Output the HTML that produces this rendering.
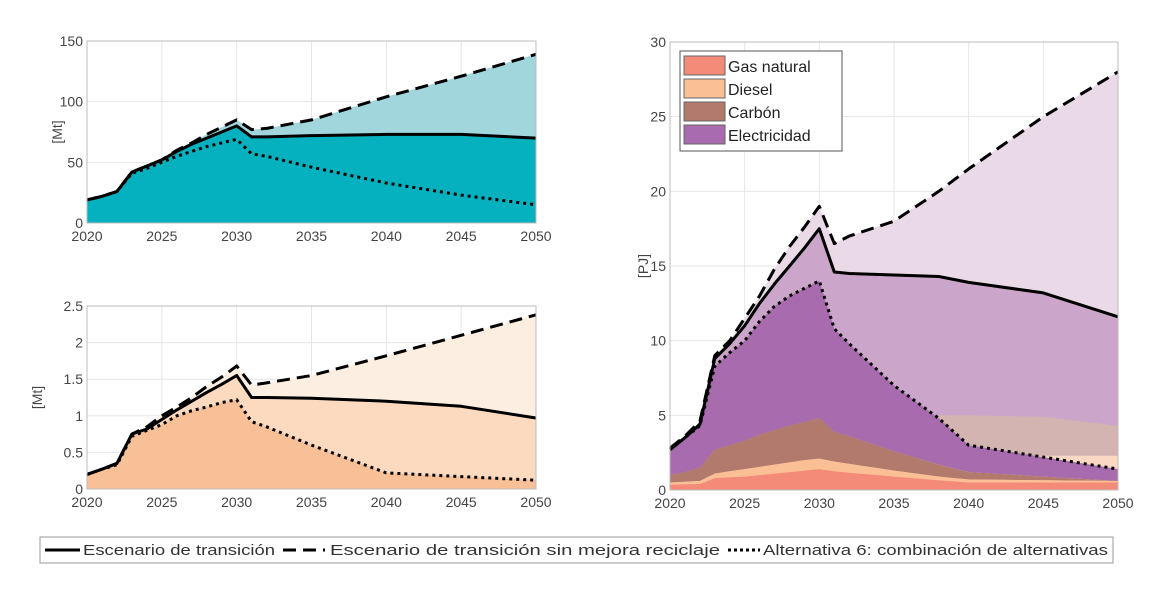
<!DOCTYPE html>
<html><head><meta charset="utf-8"><style>
body{margin:0;background:#fff;}
svg{display:block;font-family:"Liberation Sans",sans-serif;}
</style></head><body>
<svg id="c" width="1156" height="596"></svg>
<script>
const NS="http://www.w3.org/2000/svg";
// ---------- DATA ----------
const yearsA=[2020,2021,2022,2023,2024,2025,2026,2027,2028,2029,2030,2031,2032,2035,2040,2045,2050];
const topSolid=[19,22,26,42,47,52,59,65,70,75,80,71,71,72,73,73,70];
const topDashed=[19,22,26,42,47,52,60,66,73,79,85,77,78,85,104,121,139];
const topDotted=[19,22,26,41,45,50,55,59,63,66,69,57,55,46,33,23,15];
const botSolid=[0.2,0.27,0.35,0.75,0.82,0.95,1.08,1.2,1.32,1.43,1.55,1.25,1.25,1.24,1.2,1.13,0.97];
const botDashed=[0.2,0.27,0.35,0.75,0.85,1.0,1.12,1.25,1.4,1.53,1.68,1.42,1.45,1.55,1.82,2.1,2.38];
const botDotted=[0.2,0.27,0.33,0.72,0.8,0.88,1.0,1.07,1.12,1.18,1.22,0.92,0.85,0.6,0.22,0.17,0.12];
const yearsR=[2020,2021,2022,2023,2024,2025,2026,2027,2028,2029,2030,2031,2032,2035,2038,2040,2045,2050];
const rDashed=[2.8,3.6,4.6,9,10,11.5,13,14.8,16.3,17.6,19,16.5,17,18,20,21.5,25,28];
const rSolid=[2.7,3.5,4.4,8.8,9.8,11,12.5,13.8,15,16.2,17.5,14.6,14.5,14.4,14.3,13.9,13.2,11.6];
const rDotted=[2.7,3.5,4.3,8.3,9.2,10,11.3,12.3,13,13.5,14,10.8,9.8,7,4.8,3,2.2,1.4];
const altGas=[0.35,0.38,0.4,0.8,0.85,0.9,1.0,1.1,1.2,1.3,1.4,1.25,1.15,0.9,0.65,0.5,0.5,0.5];
const altDiesel=[0.5,0.55,0.6,1.1,1.25,1.4,1.55,1.7,1.85,2.0,2.1,1.9,1.75,1.3,0.9,0.7,0.65,0.6];
const altCarbon=[1.0,1.2,1.5,2.7,3.0,3.3,3.7,4.0,4.3,4.55,4.8,3.9,3.6,2.6,1.7,1.2,0.9,0.6];
const trDiesel=[0.5,0.55,0.6,1.1,1.25,1.4,1.55,1.7,1.85,2.0,2.1,2.0,2.0,2.1,2.1,2.2,2.3,2.3];
const trCarbon=[1.0,1.2,1.5,2.7,3.0,3.3,3.7,4.0,4.3,4.55,4.8,4.3,4.4,4.8,5.0,5.0,4.9,4.3];
const xTicks=[2020,2025,2030,2035,2040,2045,2050];
const topTicks=[0,50,100,150], botTicks=[0,0.5,1,1.5,2,2.5], rTicks=[0,5,10,15,20,25,30];
const botTickLabels=["0","0.5","1","1.5","2","2.5"];
// ---------- HELPERS ----------
const svg=document.getElementById('c');
function el(tag,attrs,parent){const e=document.createElementNS(NS,tag);for(const k in attrs)e.setAttribute(k,attrs[k]);(parent||svg).appendChild(e);return e;}
function makeAxes(x0,x1,y0,y1,ymax){return {x:v=>x0+(v-2020)/30*(x1-x0),y:v=>y1-v/ymax*(y1-y0),x0,x1,y0,y1};}
function linePts(ax,yrs,vals){return yrs.map((t,i)=>ax.x(t).toFixed(1)+','+ax.y(vals[i]).toFixed(1)).join(' ');}
function band(ax,yrs,lo,hi,fill,name){
  const top=yrs.map((t,i)=>[ax.x(t),ax.y(hi[i])]);
  const bot=yrs.map((t,i)=>[ax.x(t),ax.y(lo?lo[i]:0)]).reverse();
  const p=el('polygon',{points:top.concat(bot).map(q=>q[0].toFixed(1)+','+q[1].toFixed(1)).join(' '),fill:fill});
  
  
}
function line(ax,yrs,vals,style,name){
  const a={points:linePts(ax,yrs,vals),fill:'none',stroke:'#000','stroke-width':3,'stroke-linejoin':'round'};
  if(style==='dash'){a['stroke-dasharray']='13,7';}
  if(style==='dot'){a['stroke-dasharray']='3,4';}
  const p=el('polyline',a);
  
  
}
function frame(ax,ticks,labels,prefix,unit){
  const g=el('g',{});
  
  
  el('rect',{x:ax.x0,y:ax.y0,width:ax.x1-ax.x0,height:ax.y1-ax.y0,fill:'#fff'},g);
  xTicks.forEach(t=>{el('line',{x1:ax.x(t),x2:ax.x(t),y1:ax.y0,y2:ax.y1,stroke:'#e6e6e6'},g);});
  ticks.forEach(t=>{el('line',{x1:ax.x0,x2:ax.x1,y1:ax.y(t),y2:ax.y(t),stroke:'#e6e6e6'},g);});
  return g;
}
function labelsAx(ax,ticks,labels,prefix,unit,ux){
  xTicks.forEach(t=>{const tx=el('text',{x:ax.x(t),y:ax.y1+18,'font-size':14,fill:'#444','text-anchor':'middle'});tx.textContent=t;
    });
  ticks.forEach((t,i)=>{const tx=el('text',{x:ax.x0-4,y:ax.y(t)+5,'font-size':14,fill:'#444','text-anchor':'end'});tx.textContent=labels[i];
    });
  const yt=el('text',{x:ux,y:(ax.y0+ax.y1)/2,'font-size':14,fill:'#444','text-anchor':'middle',transform:`rotate(-90 ${ux} ${(ax.y0+ax.y1)/2})`});
  yt.textContent=unit;
  
  el('rect',{x:ax.x0,y:ax.y0,width:ax.x1-ax.x0,height:ax.y1-ax.y0,fill:'none',stroke:'#bbb','stroke-width':1});
}
// ---------- TOP-LEFT ----------
const A=makeAxes(87,536,41,223,150);
frame(A,topTicks);
band(A,yearsA,null,topDashed,'#a0d6dc','top-area-sin-mejora');
band(A,yearsA,null,topSolid,'#05b1be','top-area-transicion');
line(A,yearsA,topDotted,'dot','top-line-alternativa6');
line(A,yearsA,topDashed,'dash','top-line-sin-mejora');
line(A,yearsA,topSolid,'solid','top-line-transicion');
labelsAx(A,topTicks,topTicks.map(String),'top','[Mt]',62);
// ---------- BOTTOM-LEFT ----------
const B=makeAxes(87,536,306,489,2.5);
frame(B,botTicks);
band(B,yearsA,null,botDashed,'#fdeee2','bottom-area-sin-mejora');
band(B,yearsA,null,botSolid,'#fbdac0','bottom-area-transicion');
band(B,yearsA,null,botDotted,'#f7c096','bottom-area-alternativa6');
line(B,yearsA,botDotted,'dot','bottom-line-alternativa6');
line(B,yearsA,botDashed,'dash','bottom-line-sin-mejora');
line(B,yearsA,botSolid,'solid','bottom-line-transicion');
labelsAx(B,botTicks,botTickLabels,'bottom','[Mt]',42);
// ---------- RIGHT ----------
const R=makeAxes(670,1118,42,490,30);
frame(R,rTicks);
band(R,yearsR,null,rDashed,'#ead9e7','right-area-sin-mejora');
band(R,yearsR,null,rSolid,'#cba6ca','right-area-transicion-electricidad');
band(R,yearsR,null,trCarbon,'#d3b4b1','right-area-transicion-carbon');
band(R,yearsR,null,trDiesel,'#fbd8c3','right-area-transicion-diesel');
band(R,yearsR,altCarbon,rDotted,'#a86bad','right-area-electricidad');
band(R,yearsR,altDiesel,altCarbon,'#b27a6c','right-area-carbon');
band(R,yearsR,altGas,altDiesel,'#fbbf96','right-area-diesel');
band(R,yearsR,null,altGas,'#f48b78','right-area-gas-natural');
line(R,yearsR,rDotted,'dot','right-line-alternativa6');
line(R,yearsR,rDashed,'dash','right-line-sin-mejora');
line(R,yearsR,rSolid,'solid','right-line-transicion');
labelsAx(R,rTicks,rTicks.map(String),'right','[PJ]',648);
// legend right
const lg=el('g',{});

el('rect',{x:680,y:51,width:162,height:100,fill:'#fff',stroke:'#555','stroke-width':1},lg);
[['Gas natural','#f48b78'],['Diesel','#fbbf96'],['Carbón','#b27a6c'],['Electricidad','#a86bad']].forEach((d,i)=>{
  const y=56+i*23;
  const s=el('rect',{x:684,y:y,width:41,height:19,fill:d[1],stroke:'#666'},lg);
  
  const t=el('text',{x:728,y:y+16,'font-size':16,fill:'#222'},lg);t.textContent=d[0];
  
});
// bottom legend
const bl=el('g',{});

el('rect',{x:40,y:537,width:1073,height:26,fill:'#fff',stroke:'#999'},bl);
el('line',{x1:45,x2:80,y1:550,y2:550,stroke:'#000','stroke-width':3},bl);
el('line',{x1:283,x2:325,y1:550,y2:550,stroke:'#000','stroke-width':3,'stroke-dasharray':'13,7'},bl);
el('line',{x1:728,x2:760,y1:550,y2:550,stroke:'#000','stroke-width':3,'stroke-dasharray':'3,3'},bl);
[['Escenario de transición',83,192],['Escenario de transición sin mejora reciclaje',330,390],['Alternativa 6: combinación de alternativas',763,345]].forEach(d=>{
  const t=el('text',{x:d[1],y:555,'font-size':15,fill:'#333',textLength:d[2],lengthAdjust:'spacingAndGlyphs'},bl);t.textContent=d[0];
  
});
</script>
</body></html>
